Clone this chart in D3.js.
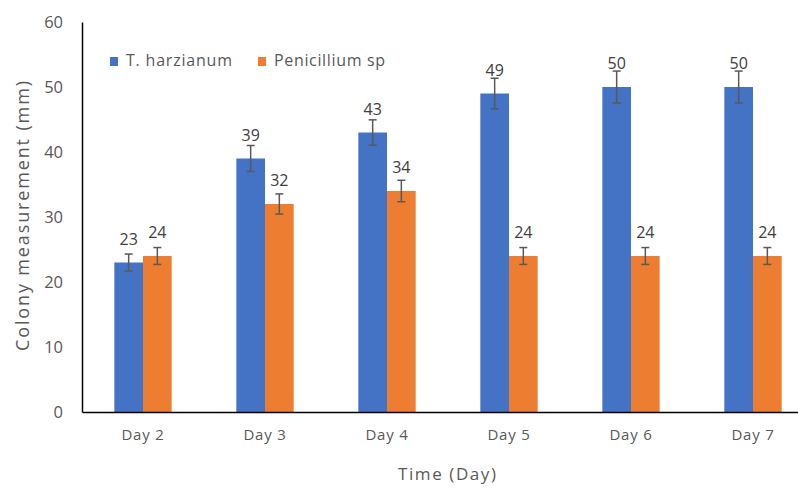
<!DOCTYPE html>
<html><head><meta charset="utf-8">
<script src="https://cdn.jsdelivr.net/npm/d3@7"></script>
<style>body{margin:0;background:#fff}svg{display:block}text{font-family:"Open Sans",sans-serif}</style>
</head><body>
<svg id="c" width="798" height="489"></svg>
<script>
const categories = ["Day 2","Day 3","Day 4","Day 5","Day 6","Day 7"];
const seriesNames = ["T. harzianum","Penicillium sp"];
const tValues = [23,39,43,49,50,50];
const pValues = [24,32,34,24,24,24];
const tErrors = [1.3,2.0,1.95,2.35,2.45,2.45];
const pErrors = [1.3,1.55,1.65,1.3,1.3,1.3];
const yTicks = [0,10,20,30,40,50,60];
const colors = ["#4472C4","#ED7D31"];

(function(){
const FONT = "'Open Sans',sans-serif";
const svg = d3.select("#c");
const mLeft = 82, mRight = 814, mTop = 22, mBottom = 412;
const x = d3.scaleBand().domain(categories).range([mLeft, mRight]).paddingInner(0.53).paddingOuter(0.265);
const x1 = d3.scaleBand().domain(seriesNames).range([0, x.bandwidth()]);
const y = d3.scaleLinear().domain([0,60]).range([mBottom, mTop]);

const series = [
  {name: seriesNames[0], values: tValues, errors: tErrors, color: colors[0]},
  {name: seriesNames[1], values: pValues, errors: pErrors, color: colors[1]}
];

const g = svg.append("g");
series.forEach(s => {
  const data = categories.map((c,i)=>({c, v:s.values[i], e:s.errors[i]}));
  g.selectAll(null).data(data).enter().append("rect")
    .attr("x", d=>x(d.c)+x1(s.name))
    .attr("y", d=>y(d.v))
    .attr("width", x1.bandwidth())
    .attr("height", d=>y(0)-y(d.v))
    .attr("fill", s.color);
});
series.forEach(s => {
  const data = categories.map((c,i)=>({c, v:s.values[i], e:s.errors[i]}));
  const cx = d=>x(d.c)+x1(s.name)+x1.bandwidth()/2;
  const eg = g.selectAll(null).data(data).enter().append("g").attr("stroke","#595959").attr("stroke-width",1.5);
  eg.append("line").attr("x1",cx).attr("x2",cx).attr("y1",d=>y(d.v+d.e)).attr("y2",d=>y(d.v-d.e));
  eg.append("line").attr("x1",d=>cx(d)-4).attr("x2",d=>cx(d)+4).attr("y1",d=>y(d.v+d.e)).attr("y2",d=>y(d.v+d.e));
  eg.append("line").attr("x1",d=>cx(d)-4).attr("x2",d=>cx(d)+4).attr("y1",d=>y(d.v-d.e)).attr("y2",d=>y(d.v-d.e));
  g.selectAll(null).data(data).enter().append("text")
    .attr("x", cx).attr("y", d=>y(d.v)-18)
    .attr("text-anchor","middle").attr("font-size",16).attr("fill","#404040")
    .text(d=>d.v);
});

const yAxis = d3.axisLeft(y).tickValues(yTicks).tickSize(0).tickPadding(19);
const ya = svg.append("g").attr("transform",`translate(${mLeft},0)`).call(yAxis);
ya.select(".domain").attr("stroke","#000").attr("stroke-width",1.5);
ya.selectAll("text").attr("font-size",16.5).attr("fill","#595959").attr("font-family",FONT);

const xAxis = d3.axisBottom(x).tickSize(0).tickPadding(17);
const xa = svg.append("g").attr("transform",`translate(0,${mBottom})`).call(xAxis);
xa.select(".domain").attr("stroke","#000").attr("stroke-width",1.5);
xa.selectAll("text").attr("font-size",15).attr("letter-spacing","0.8px").attr("fill","#595959").attr("font-family",FONT);

svg.append("text").attr("x",447).attr("y",480).attr("text-anchor","middle")
  .attr("font-size",17).attr("fill","#595959").attr("textLength",98).attr("lengthAdjust","spacing").text("Time (Day)");
svg.append("text").attr("transform","translate(29,216) rotate(-90)").attr("text-anchor","middle")
  .attr("font-size",18).attr("fill","#595959").attr("textLength",270).attr("lengthAdjust","spacing").text("Colony measurement (mm)");

const legX = [110, 258];
const legW = [106, 111];
series.forEach((s,i)=>{
  svg.append("rect").attr("x",legX[i]).attr("y",57).attr("width",8).attr("height",9).attr("fill",s.color);
  svg.append("text").attr("x",legX[i]+16).attr("y",66).attr("font-size",16).attr("fill","#595959")
    .attr("textLength",legW[i]).attr("lengthAdjust","spacing").text(s.name);
});
})();
</script>
</body></html>
